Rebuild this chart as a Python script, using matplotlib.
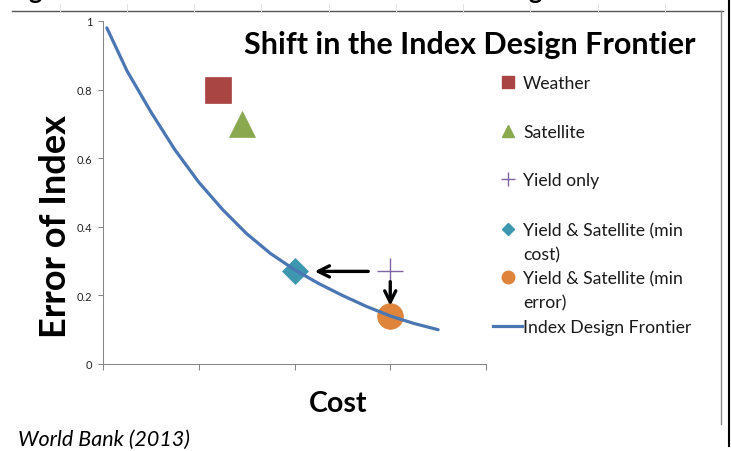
import matplotlib
matplotlib.use("Agg")
import matplotlib.pyplot as plt
from matplotlib.lines import Line2D

plt.rcParams['font.family'] = ['Lato', 'DejaVu Sans']

# frontier (cost in tick units, error of index)
frontier_cost = [0.04, 0.25, 0.5, 0.75, 1.0, 1.25, 1.5, 1.75, 2.0, 2.25, 2.5, 2.75, 3.0, 3.25, 3.5]
frontier_error = [0.98, 0.855, 0.735, 0.625, 0.53, 0.45, 0.38, 0.322, 0.275, 0.235, 0.20, 0.168, 0.14, 0.118, 0.10]

# single points
weather = (1.2, 0.80)
satellite = (1.45, 0.70)
yield_only = (3.0, 0.27)
ys_min_cost = (2.0, 0.27)
ys_min_error = (3.0, 0.14)

y_ticks = [0, 0.2, 0.4, 0.6, 0.8, 1]
y_tick_labels = ['0', '0.2', '0.4', '0.6', '0.8', '1']
x_ticks = [0, 1, 2, 3, 4]

C_WEATHER = '#A94542'
C_SAT = '#8AA94F'
C_YIELD = '#7E64A0'
C_MINCOST = '#3D97AF'
C_MINERR = '#DE843B'
C_LINE = '#4A77B4'
C_AXIS = '#868686'

W, H = 731, 452
fig = plt.figure(figsize=(W / 100, H / 100), dpi=100)

# overlay in pixel coords for legend + page decorations
lax = fig.add_axes([0, 0, 1, 1])
lax.set_xlim(0, W)
lax.set_ylim(H, 0)
lax.set_axis_off()
lax.patch.set_visible(False)

ax = fig.add_axes([103 / W, 1 - 365 / H, 383 / W, 343 / H])
ax.patch.set_visible(False)

ax.plot(frontier_cost, frontier_error, color=C_LINE, lw=2.3, solid_capstyle='round',
        solid_joinstyle='round', zorder=2)
ax.plot(*weather, marker='s', ms=18.5, color=C_WEATHER, mec=C_WEATHER, mew=0.5, zorder=3)
ax.plot(*satellite, marker='^', ms=18.5, color=C_SAT, mec=C_SAT, mew=0.5, zorder=3)
ax.plot(*yield_only, marker='+', ms=19, color=C_YIELD, mew=1.0, zorder=3)
ax.plot(*ys_min_cost, marker='D', ms=13, color=C_MINCOST, mec=C_MINCOST, mew=0.5, zorder=1)
ax.plot(*ys_min_error, marker='o', ms=18.5, color=C_MINERR, mec=C_MINERR, mew=0.5, zorder=1)

arrow = dict(arrowstyle='->', lw=2.4, color='black', mutation_scale=20, shrinkA=0, shrinkB=0)
ax.annotate('', xy=(2.21, yield_only[1]), xytext=(2.77, yield_only[1]), arrowprops=arrow)
ax.annotate('', xy=(3.0, 0.17), xytext=(3.0, 0.24), arrowprops=arrow)

ax.set_xlim(0, 4)
ax.set_ylim(0, 1)
ax.set_xticks(x_ticks)
ax.set_xticklabels([])
ax.set_yticks(y_ticks)
ax.set_yticklabels(y_tick_labels)
ax.tick_params(axis='y', direction='out', length=3.6, width=0.75, color=C_AXIS,
               labelsize=8, pad=4, labelcolor='#222222')
ax.tick_params(axis='x', direction='out', length=4.5, width=0.75, color=C_AXIS)
for side in ['top', 'right']:
    ax.spines[side].set_visible(False)
for side in ['left', 'bottom']:
    ax.spines[side].set_color(C_AXIS)
    ax.spines[side].set_linewidth(0.75)

fig.text(470 / W, 1 - 45 / H, 'Shift in the Index Design Frontier', fontsize=22,
         fontweight='bold', ha='center', va='center')
fig.text(55 / W, 1 - 227 / H, 'Error of Index', fontsize=26, fontweight='bold',
         rotation=90, ha='center', va='center')
fig.text(338 / W, 1 - 404 / H, 'Cost', fontsize=20.5, fontweight='bold',
         ha='center', va='center')
fig.text(18 / W, 1 - 440 / H, 'World Bank (2013)', fontsize=15.5, style='italic',
         ha='left', va='center')

# legend, drawn by hand so two-line labels keep the key on the first line
legend_rows = [83, 132, 180, 230, 278, 327]
legend_labels = ['Weather', 'Satellite', 'Yield only', 'Yield & Satellite (min\ncost)',
                 'Yield & Satellite (min\nerror)', 'Index Design Frontier']
legend_styles = [
    dict(marker='s', ms=9, color=C_WEATHER, ls='none'),
    dict(marker='^', ms=9, color=C_SAT, ls='none'),
    dict(marker='+', ms=10, color=C_YIELD, mew=1.0, ls='none'),
    dict(marker='D', ms=6.5, color=C_MINCOST, ls='none'),
    dict(marker='o', ms=9, color=C_MINERR, ls='none'),
    dict(color=C_LINE, lw=2.3),
]
for y, lab, st in zip(legend_rows, legend_labels, legend_styles):
    if 'marker' in st:
        lax.plot([508], [y], **st)
    else:
        lax.plot([493, 522], [y, y], **st)
    lax.text(523, y - 7, lab, fontsize=12.7, ha='left', va='top', linespacing=1.6,
             color='#1a1a1a')

# page bits around the pasted chart
lax.add_line(Line2D([12, 723], [12, 12], color='#555555', lw=1.0))
lax.add_line(Line2D([721, 721], [12, 425], color='#8a8a8a', lw=1.0))
lax.add_line(Line2D([729, 729], [0, 447], color='black', lw=1.5))
for x in [60, 127, 194, 261, 329, 396, 463, 530, 598, 665]:
    lax.add_line(Line2D([x, x], [5, 12], color='#e2e2e2', lw=0.7))
fig.text(28 / W, 1.0 + 1 / H, 'g', fontsize=18, fontweight='bold', ha='left', va='baseline')
fig.text(528 / W, 1.0 + 1 / H, 'g', fontsize=18, fontweight='bold', ha='left', va='baseline')

fig.savefig('out.png', dpi=100)
